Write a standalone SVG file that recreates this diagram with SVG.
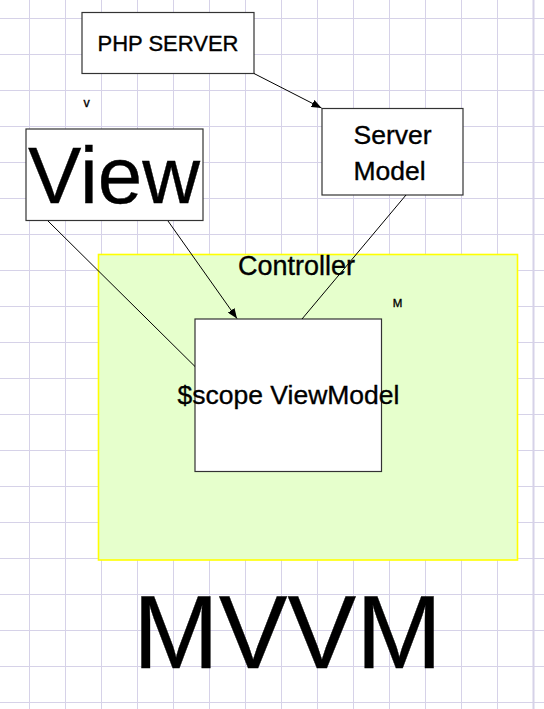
<svg xmlns="http://www.w3.org/2000/svg" width="544" height="709" viewBox="0 0 544 709">
<defs>
<style>
.grid line{stroke:#d6d2e8;stroke-width:1}
.box{fill:#fff;stroke:#333;stroke-width:1.2}
.t{font-family:"Liberation Sans",Arial,sans-serif;fill:#000}
.s{stroke:#000;stroke-width:0.35}
.conn line{stroke:#000;stroke-width:1}
</style>
<marker id="ah" viewBox="0 0 10 8" refX="10" refY="4" markerWidth="10" markerHeight="8" markerUnits="userSpaceOnUse" orient="auto">
<path d="M0,0 L10,4 L0,8 Z" fill="#000"/>
</marker>
</defs>
<rect width="544" height="709" fill="#fff"/>
<g class="grid">
<line x1="29.5" y1="0" x2="29.5" y2="709"/>
<line x1="65.5" y1="0" x2="65.5" y2="709"/>
<line x1="101.5" y1="0" x2="101.5" y2="709"/>
<line x1="137.5" y1="0" x2="137.5" y2="709"/>
<line x1="173.5" y1="0" x2="173.5" y2="709"/>
<line x1="209.5" y1="0" x2="209.5" y2="709"/>
<line x1="245.5" y1="0" x2="245.5" y2="709"/>
<line x1="281.5" y1="0" x2="281.5" y2="709"/>
<line x1="317.5" y1="0" x2="317.5" y2="709"/>
<line x1="353.5" y1="0" x2="353.5" y2="709"/>
<line x1="389.5" y1="0" x2="389.5" y2="709"/>
<line x1="425.5" y1="0" x2="425.5" y2="709"/>
<line x1="461.5" y1="0" x2="461.5" y2="709"/>
<line x1="497.5" y1="0" x2="497.5" y2="709"/>
<line x1="533.5" y1="0" x2="533.5" y2="709" style="stroke-width:2"/>
<line x1="0" y1="18.5" x2="544" y2="18.5"/>
<line x1="0" y1="54.5" x2="544" y2="54.5"/>
<line x1="0" y1="90.5" x2="544" y2="90.5"/>
<line x1="0" y1="126.5" x2="544" y2="126.5"/>
<line x1="0" y1="162.5" x2="544" y2="162.5"/>
<line x1="0" y1="198.5" x2="544" y2="198.5"/>
<line x1="0" y1="234.5" x2="544" y2="234.5"/>
<line x1="0" y1="270.5" x2="544" y2="270.5"/>
<line x1="0" y1="306.5" x2="544" y2="306.5"/>
<line x1="0" y1="342.5" x2="544" y2="342.5"/>
<line x1="0" y1="378.5" x2="544" y2="378.5"/>
<line x1="0" y1="414.5" x2="544" y2="414.5"/>
<line x1="0" y1="450.5" x2="544" y2="450.5"/>
<line x1="0" y1="486.5" x2="544" y2="486.5"/>
<line x1="0" y1="522.5" x2="544" y2="522.5"/>
<line x1="0" y1="558.5" x2="544" y2="558.5"/>
<line x1="0" y1="594.5" x2="544" y2="594.5"/>
<line x1="0" y1="630.5" x2="544" y2="630.5"/>
<line x1="0" y1="666.5" x2="544" y2="666.5"/>
<line x1="0" y1="702.5" x2="544" y2="702.5"/>
</g>
<g id="controller">
<rect x="98.5" y="254.5" width="419" height="305.5" fill="#e6ffcc" stroke="#ffff00" stroke-width="1.6"/>
<text class="t s" x="296.5" y="274.5" font-size="27" text-anchor="middle">Controller</text>
</g>
<g id="php-server">
<rect class="box" x="82" y="12.5" width="172" height="61"/>
<text class="t s" x="168" y="51" font-size="22" text-anchor="middle">PHP SERVER</text>
</g>
<g id="server-model">
<rect class="box" x="322" y="108.5" width="141" height="86.5"/>
<text class="t s" x="392.5" y="143.5" font-size="26.5" text-anchor="middle">Server</text>
<text class="t s" x="389.5" y="180" font-size="26.5" text-anchor="middle">Model</text>
</g>
<g id="view">
<rect class="box" x="26" y="129" width="177" height="91.5"/>
<text class="t s" x="114" y="202.5" font-size="80" text-anchor="middle">View</text>
</g>
<g id="viewmodel">
<rect class="box" x="195" y="319" width="186.5" height="152.5"/>
</g>
<g class="conn" id="connectors">
<line x1="254" y1="73.5" x2="321.5" y2="108" marker-end="url(#ah)"/>
<line x1="406" y1="195" x2="302" y2="319"/>
<line x1="168" y1="221" x2="237" y2="318.5" marker-end="url(#ah)"/>
<line x1="48" y1="221" x2="195" y2="366.5"/>
</g>
<g id="viewmodel-label">
<text class="t s" x="288.5" y="403.5" font-size="26.5" text-anchor="middle">$scope ViewModel</text>
</g>
<g id="labels">
<text class="t s" x="86.5" y="106.5" font-size="12.5" text-anchor="middle">v</text>
<text class="t s" x="397.5" y="307" font-size="11.5" text-anchor="middle">M</text>
<text class="t s" x="287.5" y="668" font-size="103" text-anchor="middle">MVVM</text>
</g>
</svg>
